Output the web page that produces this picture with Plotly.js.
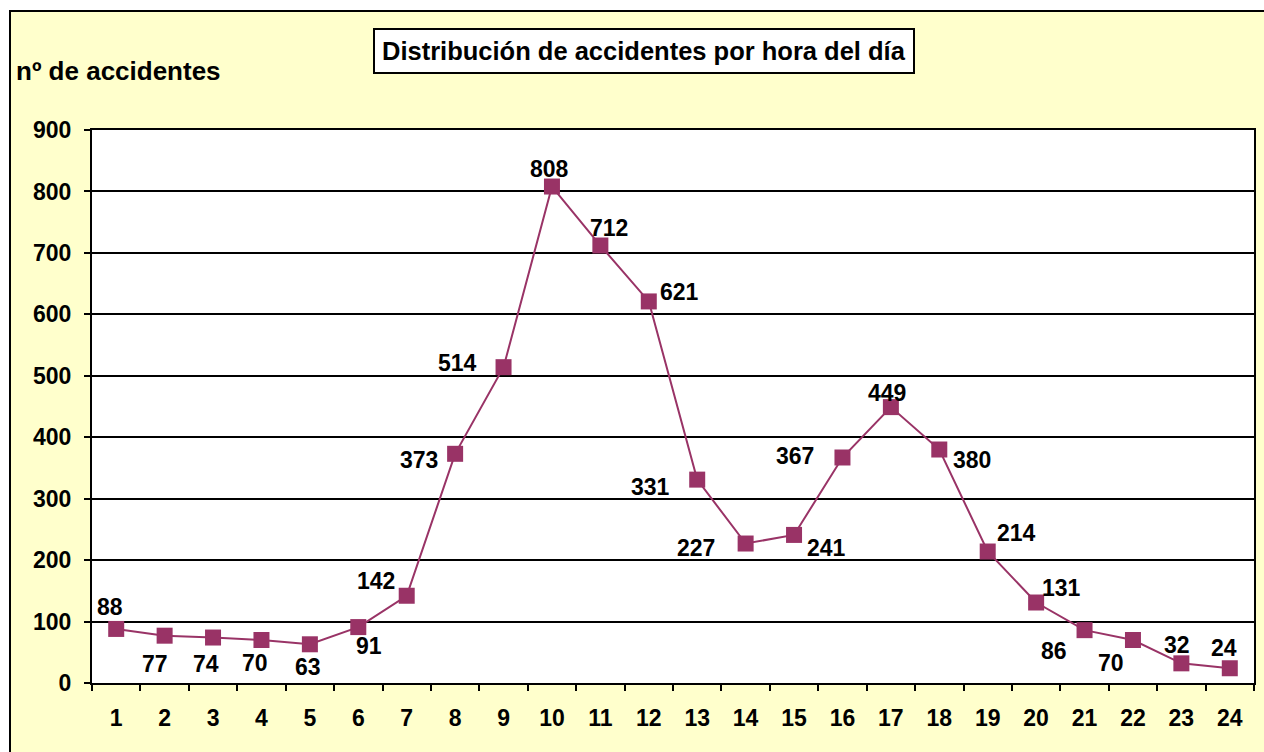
<!DOCTYPE html>
<html>
<head>
<meta charset="utf-8">
<script src="https://cdn.plot.ly/plotly-3.0.1.min.js"></script>
<style>
html,body{margin:0;padding:0;background:#ffffff;overflow:hidden;width:1264px;height:752px;}
#chart{position:absolute;left:9px;top:10px;width:1253px;height:740px;border-left:2px solid #000;border-top:2px solid #000;}
</style>
</head>
<body>
<div id="chart"></div>
<script>
const hours = [1,2,3,4,5,6,7,8,9,10,11,12,13,14,15,16,17,18,19,20,21,22,23,24];
const accidents = [88,77,74,70,63,91,142,373,514,808,712,621,331,227,241,367,449,380,214,131,86,70,32,24];
const yTicks = [0,100,200,300,400,500,600,700,800,900];
const chartTitle = 'Distribución de accidentes por hora del día';
const yTitle = 'nº de accidentes';

// label placement offsets (pixels, relative to marker centre) - styling only
const labelDX = [-6,-10,-7,-6,-2,11,-31,-36,-46,-2,9,31,-47,-50,32,-47,-4,33,29,25,-31,-22,-4,-6];
const labelDY = [-22,28,26,23,23,19,-15,6,-4,-18,-18,-9,7,4,13,-2,-14,10,-19,-15,21,23,-18,-20];

const fontFam = 'Liberation Sans, Arial, Helvetica, sans-serif';
const col = '#993366';

const trace = {
  x: hours.map(String),
  y: accidents,
  type: 'scatter',
  mode: 'lines+markers',
  line: {color: col, width: 2},
  marker: {symbol: 'square', size: 16, color: col},
  cliponaxis: false,
  hoverinfo: 'x+y'
};

// on a category axis annotations are placed by category index
const valueLabels = hours.map((h, i) => ({
  x: i, y: accidents[i], xref: 'x', yref: 'y',
  text: String(accidents[i]), showarrow: false,
  xanchor: 'center', yanchor: 'middle',
  xshift: labelDX[i], yshift: -labelDY[i],
  font: {family: fontFam, size: 23, color: '#000', weight: 'bold'}
}));

const layout = {
  width: 1253, height: 740,
  paper_bgcolor: '#FFFFCC',
  plot_bgcolor: '#FFFFFF',
  margin: {l: 81, r: 10, t: 118, b: 69},
  showlegend: false,
  font: {family: fontFam, color: '#000'},
  xaxis: {
    type: 'category',
    range: [-0.5, 23.5],
    tickson: 'boundaries',
    ticks: 'outside', ticklen: 6, tickwidth: 2, tickcolor: '#000',
    showline: true, linecolor: '#000', linewidth: 2, mirror: true,
    showgrid: false, zeroline: false,
    tickfont: {family: fontFam, size: 23, color: '#000', weight: 'bold'},
    ticklabelstandoff: 13,
    fixedrange: true
  },
  yaxis: {
    range: [0, 900],
    tickvals: yTicks,
    ticktext: yTicks.map(String),
    ticks: 'outside', ticklen: 6, tickwidth: 2, tickcolor: '#000',
    showline: true, linecolor: '#000', linewidth: 2, mirror: true,
    showgrid: true, gridcolor: '#000', gridwidth: 2, zeroline: false,
    tickfont: {family: fontFam, size: 23, color: '#000', weight: 'bold'},
    ticklabelstandoff: 8,
    fixedrange: true
  },
  annotations: [
    {
      text: chartTitle, xref: 'paper', yref: 'paper',
      x: 0.475, y: 1, xanchor: 'center', yanchor: 'middle',
      yshift: 79,
      showarrow: false,
      bgcolor: '#FFFFFF', bordercolor: '#000', borderwidth: 2, borderpad: 7,
      font: {family: fontFam, size: 25.5, color: '#000', weight: 'bold'}
    },
    {
      text: yTitle, xref: 'paper', yref: 'paper',
      x: 0, y: 1, xanchor: 'left', yanchor: 'middle',
      xshift: -78, yshift: 59,
      showarrow: false,
      font: {family: fontFam, size: 26, color: '#000', weight: 'bold'}
    }
  ].concat(valueLabels)
};

Plotly.newPlot('chart', [trace], layout, {displayModeBar: false, staticPlot: true});
</script>
</body>
</html>
